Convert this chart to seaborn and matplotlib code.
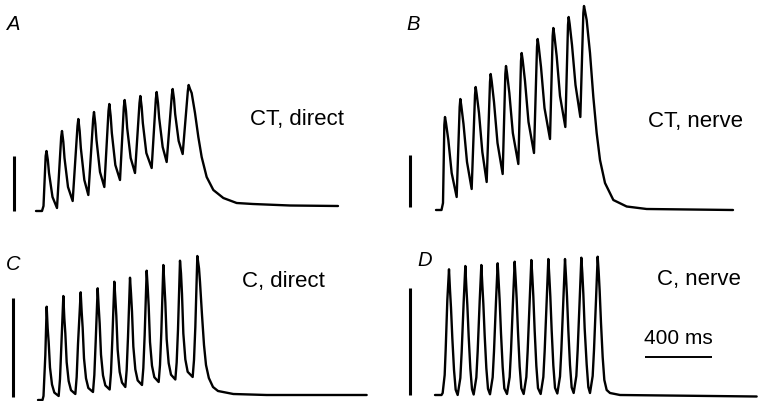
import matplotlib
matplotlib.use("Agg")
import matplotlib.pyplot as plt
import seaborn as sns
import pandas as pd

# ---------------- data (time in ms, force in arbitrary units) ----------------
time_A = [0, 36, 45, 58, 63, 71, 78, 99, 126, 151, 156, 164, 171, 192, 220,
          249, 254, 262, 269, 290, 314, 343, 348, 356, 363, 384, 410,
          435, 440, 448, 455, 476, 504, 527, 532, 540, 547, 568, 594,
          621, 626, 634, 641, 662, 694, 719, 724, 732, 739, 760, 784,
          815, 820, 828, 835, 856, 880, 911, 916, 924, 934, 954, 974,
          994, 1024, 1064, 1124, 1204, 1302, 1524, 1812]
force_A = [0, 0, 5, 55, 60, 51, 38, 14, 3, 74, 80, 69, 53, 24, 10,
           85, 92, 80, 63, 31, 16, 92, 99, 87, 71, 39, 24,
           100, 107, 95, 78, 46, 31, 104, 111, 100, 83, 53, 38,
           108, 115, 104, 88, 58, 43, 112, 119, 108, 93, 64, 49,
           116, 122, 112, 97, 70, 57, 120, 126, 122, 118, 98, 74,
           54, 34, 21, 13, 8, 7, 5.5, 5]

time_B = [0, 33, 42, 50, 54, 60, 74, 94, 124, 142, 146, 152, 165, 186, 214,
          234, 238, 244, 258, 278, 304, 324, 328, 334, 348, 369, 400,
          416, 420, 426, 440, 461, 494, 510, 514, 520, 534, 555, 588,
          606, 610, 616, 630, 651, 684, 700, 704, 710, 724, 744, 776,
          792, 796, 802, 816, 837, 866, 884, 888, 894, 904, 924, 944,
          964, 984, 1014, 1064, 1144, 1264, 1782]
force_B = [0, 0, 7, 85, 93, 87, 70, 37, 13, 103, 111, 104, 86, 48, 21,
           115, 123, 116, 97, 58, 28, 128, 136, 129, 108, 67, 36,
           136, 144, 137, 117, 77, 46, 149, 157, 150, 129, 88, 57,
           163, 171, 164, 143, 102, 71, 174, 182, 175, 154, 114, 83,
           185, 193, 186, 165, 125, 93, 197, 204, 199, 190, 157, 113,
           77, 50, 27, 10, 3.5, 1, 0]

time_C = [0, 27, 33, 44, 52, 58, 64, 72, 84, 98, 124,
          132, 140, 152, 158, 164, 172, 184, 198, 224,
          232, 240, 256, 262, 268, 276, 288, 302, 330,
          338, 346, 358, 364, 370, 378, 390, 404, 430,
          438, 446, 458, 464, 470, 478, 490, 504, 524,
          532, 540, 552, 558, 564, 572, 584, 598, 624,
          632, 640, 652, 658, 664, 672, 684, 698, 724,
          732, 740, 752, 758, 764, 772, 784, 798, 824,
          832, 840, 852, 858, 864, 872, 884, 898, 928,
          936, 944, 956, 966, 972, 984, 996, 1008, 1025, 1050, 1080,
          1172, 1372, 1972]
force_C = [0, 0, 4, 45, 93.3, 71.7, 58, 32.4, 15.5, 7.4, 4,
           21, 54, 104, 81.7, 66.6, 37.8, 18.9, 9.8, 6,
           23, 56, 107.7, 88.3, 72.2, 41.7, 21.7, 12, 8,
           25, 58, 111.7, 93.3, 76.7, 45.3, 24.6, 14.6, 10.5,
           27.5, 60.5, 118.3, 101.7, 84, 50.3, 28.1, 17.4, 13,
           30, 63, 122.3, 106.7, 88.4, 53.5, 30.6, 19.6, 15,
           32, 65, 129.3, 113.3, 94.2, 58, 34.2, 22.8, 18,
           35, 68, 135, 116.7, 97.5, 60.9, 36.9, 25.3, 20.5,
           37.5, 70.5, 139.3, 126.7, 106, 66.5, 40.6, 28.2, 23,
           40, 73, 144, 131.7, 118, 85, 55, 35, 22, 13, 9,
           6, 5, 5]

time_D = [0, 39, 46, 58, 64, 74, 84, 90, 96, 104, 114, 124, 136,
          152, 160, 172, 182, 188, 194, 202, 212, 222, 232,
          248, 256, 268, 278, 284, 290, 298, 308, 318, 330,
          346, 354, 366, 376, 382, 388, 396, 406, 416, 432,
          448, 456, 468, 478, 484, 490, 498, 508, 518, 532,
          548, 556, 568, 578, 584, 590, 598, 608, 618, 634,
          650, 658, 670, 680, 686, 692, 700, 710, 720, 734,
          750, 758, 770, 780, 786, 792, 800, 810, 820, 832,
          848, 856, 868, 878, 884, 890, 898, 910, 920, 930,
          946, 954, 966, 976, 982, 988, 996, 1006, 1016, 1030, 1050,
          1110, 1930]
force_D = [0, 0, 2, 20, 45, 95, 125.7, 105, 87.2, 56.7, 25.2, 5.3, 0,
           17, 43, 93, 129, 108.3, 90, 58.7, 26.4, 5.9, 0.5,
           17.5, 43.5, 93.5, 130, 110, 91.4, 59.7, 26.9, 6.2, 0.7,
           17.7, 43.7, 93.7, 131.7, 113.3, 94.2, 61.6, 28, 6.6, 1,
           18, 44, 94, 133.3, 115.7, 96.2, 62.9, 28.5, 6.7, 1,
           18, 44, 94, 135, 118.3, 98.4, 64.3, 29.2, 6.9, 1,
           18, 44, 94, 136, 118.3, 98.4, 64.6, 29.5, 7.2, 1.5,
           18.5, 44.5, 94.5, 136, 118.3, 98.5, 64.8, 30, 7.6, 2,
           19, 45, 95, 137.3, 121.7, 101.4, 66.6, 30.7, 7.9, 2,
           19, 45, 95, 138.3, 123.3, 104, 72, 38, 15, 5, 2,
           0, -1.5]

panel_letters = ["A", "B", "C", "D"]
panel_titles = ["CT, direct", "CT, nerve", "C, direct", "C, nerve"]
force_bars = [(0, 55), (3, 55), (3, 102), (0, 107)]   # calibration bars (force units)
time_bar_ms = 400
time_bar_label = "400 ms"

# ---------------- figure ----------------
sns.set_theme(style="white")
plt.rcParams["font.family"] = ["Liberation Sans", "DejaVu Sans"]

W, H = 758, 401
fig = plt.figure(figsize=(W / 100, H / 100), dpi=100)

# panel boxes in pixels (x0, x1, y0, y1) and data limits
boxes = [(0, 379, 0, 220), (379, 758, 0, 220), (0, 379, 220, 401), (379, 758, 220, 401)]
xlims = [(-216, 2058), (-342, 1932), (-228, 2046), (-336, 1938)]
ylims = [(-9, 211), (-10, 210), (-1, 180), (-6, 175)]
bar_t = [-132, -156, -148, -150]

traces = [(time_A, force_A), (time_B, force_B), (time_C, force_C), (time_D, force_D)]

axes = []
for i, (bx, (tt, ff)) in enumerate(zip(boxes, traces)):
    x0, x1, y0, y1 = bx
    ax = fig.add_axes([x0 / W, 1 - y1 / H, (x1 - x0) / W, (y1 - y0) / H])
    df = pd.DataFrame({"time": tt, "force": ff})
    sns.lineplot(data=df, x="time", y="force", ax=ax, color="black",
                 linewidth=1.7, estimator=None, sort=False)
    ax.lines[-1].set_solid_joinstyle("round")
    ax.plot([bar_t[i], bar_t[i]], list(force_bars[i]), color="black",
            linewidth=2.2, solid_capstyle="butt")
    ax.set_xlim(*xlims[i])
    ax.set_ylim(*ylims[i])
    ax.axis("off")
    axes.append(ax)

# time calibration bar in panel D
axD = axes[3]
axD.plot([1260, 1260 + time_bar_ms], [37.7, 37.7], color="black", linewidth=1.4,
         solid_capstyle="butt")
axD.text(1260 + time_bar_ms / 2, 47, time_bar_label, ha="center", va="bottom",
         fontsize=15, color="black")

# panel letters and condition titles (pixel positions)
letter_pos = [(7, 25), (406, 25), (6, 265), (417, 260)]
title_pos = [(250, 119), (648, 122), (242, 281), (657, 280)]
for (lx, ly), lab in zip(letter_pos, panel_letters):
    fig.text(lx / W, 1 - ly / H, lab, ha="left", va="center", fontsize=14.5,
             style="italic", color="black")
for (tx, ty), lab in zip(title_pos, panel_titles):
    fig.text(tx / W, 1 - ty / H, lab, ha="left", va="center", fontsize=16,
             color="black")

fig.savefig("out.png", dpi=100, facecolor="white")
